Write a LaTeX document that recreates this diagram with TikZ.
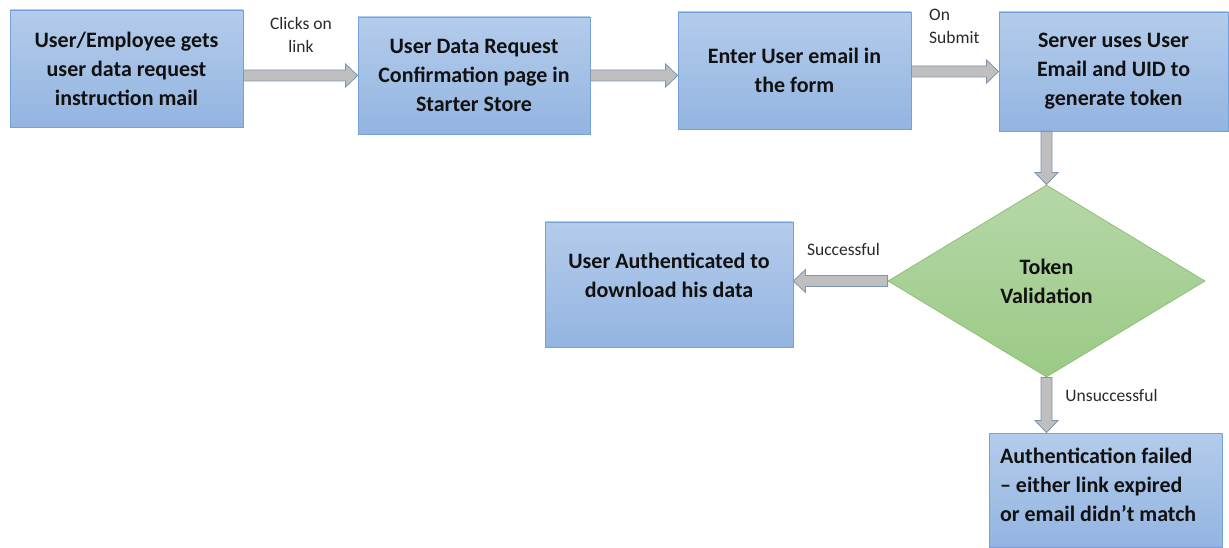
\documentclass[tikz,border=0pt]{standalone}
\usepackage{fontspec}
\setmainfont{Carlito}
\usetikzlibrary{shapes.geometric,calc}

\definecolor{boxtop}{HTML}{B4CCEB}
\definecolor{boxbot}{HTML}{93B4E1}
\definecolor{boxline}{HTML}{74A2D6}
\definecolor{dectop}{HTML}{B6D7A8}
\definecolor{decbot}{HTML}{9BCA85}
\definecolor{decline}{HTML}{8DC072}
\definecolor{arrfill}{HTML}{BFBFBF}
\definecolor{arrline}{HTML}{7E95B3}
\definecolor{ink}{HTML}{111111}

\tikzset{
  stepbox/.style={rectangle, draw=boxline, line width=0.8pt,
    top color=boxtop, bottom color=boxbot, text=ink,
    font=\bfseries\fontsize{22}{29}\selectfont, align=center, inner sep=0pt},
  decision/.style={diamond, draw=decline, line width=0.8pt,
    top color=dectop, bottom color=decbot, text=ink,
    font=\bfseries\fontsize{22}{29}\selectfont, align=center, inner sep=0pt},
  edgelabel/.style={font=\fontsize{17.5}{22.5}\selectfont, text=ink!90, inner sep=0pt},
  barrow/.style={draw=arrline, fill=arrfill, line width=0.8pt, line join=miter}
}

% block arrow from point #1 to point #2
\newcommand\blockarrow[2]{%
  \draw[barrow] let \p1=(#1), \p2=(#2), \p3=($(\p2)!12pt!(\p1)$) in
    ($(\p1)!5.5pt!90:(\p2)$) -- ($(\p3)!5.5pt!90:(\p2)$) --
    ($(\p3)!11.5pt!90:(\p2)$) -- (\p2) -- ($(\p3)!11.5pt!-90:(\p2)$) --
    ($(\p3)!5.5pt!-90:(\p2)$) -- ($(\p1)!5.5pt!-90:(\p2)$) -- cycle;}

\begin{document}
\begin{tikzpicture}[x=1pt,y=-1pt]
\useasboundingbox (0,0) rectangle (1229,548);

% process steps
\node[stepbox, minimum width=233pt, minimum height=117pt] (b1) at (126.5,68.5)
  {User/Employee gets\\user data request\\instruction mail};
\node[stepbox, minimum width=232pt, minimum height=117pt] (b2) at (474,75.5)
  {User Data Request\\Confirmation page in\\Starter Store};
\node[stepbox, minimum width=233pt, minimum height=117pt] (b3) at (794.5,70.5)
  {Enter User email in\\the form};
\node[stepbox, minimum width=229pt, minimum height=119pt] (b4) at (1113.5,71.5)
  {Server uses User\\Email and UID to\\generate token};
\node[decision, minimum width=317pt, minimum height=192pt] (dia) at (1046.5,281)
  {Token\\Validation};
\node[stepbox, minimum width=248pt, minimum height=125pt, text depth=18pt] (b5) at (669,284.5)
  {User Authenticated to\\download his data};
\node[stepbox, minimum width=233pt, minimum height=114pt, text width=211pt,
  align=flush left, inner xsep=11pt, text depth=68pt,
  execute at begin node={\spaceskip=0pt\xspaceskip=0pt}] (b6) at (1105.5,490)
  {Authentication failed\\– either link expired\\or email didn’t match};

% connectors
\blockarrow{b1.east |- b2.west}{b2.west}
\blockarrow{b2.east}{b3.west |- b2.east}
\blockarrow{b3.east |- b4.west}{b4.west}
\blockarrow{dia.north |- b4.south}{dia.north}
\blockarrow{dia.west}{b5.east |- dia.west}
\blockarrow{dia.south}{dia.south |- b6.north}

% connector labels
\node[edgelabel, align=center] (l1) at (301,35) {Clicks on\\link};
\node[edgelabel, align=left, anchor=west] (l2) at (929,26.5) {On\\Submit};
\node[edgelabel] (l3) at (843.5,249) {Successful};
\node[edgelabel] (l4) at (1111.5,395) {Unsuccessful};
\end{tikzpicture}
\end{document}
